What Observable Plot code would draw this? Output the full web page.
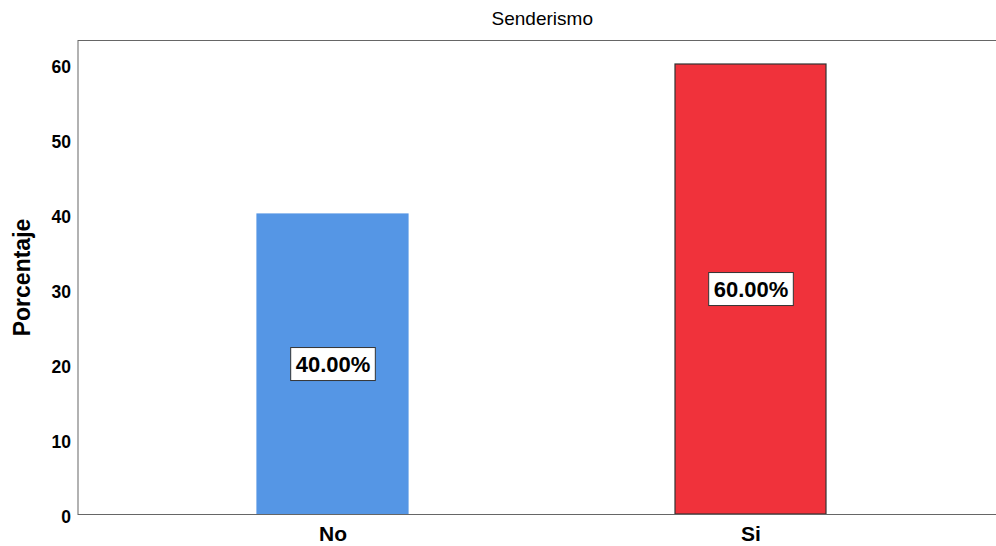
<!DOCTYPE html>
<html><head><meta charset="utf-8">
<script src="https://cdn.jsdelivr.net/npm/d3@7"></script>
<script src="https://cdn.jsdelivr.net/npm/@observablehq/plot@0.6"></script>
<style>html,body{margin:0;padding:0;background:#fff;overflow:hidden}</style>
</head><body><div id="chart"></div>
<script>
const categories = ["No", "Si"];
const values = [40, 60];
const labels = ["40.00%", "60.00%"];
const fills = ["#5596e5", "#f0323b"];
const strokes = ["#5596e5", "#333333"];
const yTicks = [0, 10, 20, 30, 40, 50, 60];
const title = "Senderismo";
const yLabel = "Porcentaje";

const data = categories.map((c, i) => ({cat: c, value: values[i], label: labels[i], fill: fills[i], stroke: strokes[i]}));

const chart = Plot.plot({
  width: 996, height: 546,
  marginLeft: 77.5, marginRight: -10, marginTop: 40, marginBottom: 32,
  style: {fontFamily: "'Liberation Sans', Arial, sans-serif", background: "#fff", color: "#000"},
  x: {domain: categories, paddingInner: 0.639, paddingOuter: 0.43},
  y: {domain: [0, 63.2]},
  marks: [
    Plot.barY(data, {x: "cat", y: "value", fill: d => d.fill, stroke: d => d.stroke, strokeWidth: 1.2}),
    Plot.frame({stroke: "#666"}),
    Plot.axisY({ticks: yTicks, tickSize: 0, tickPadding: 7, fontSize: 17.5, fontWeight: "bold", dy: 3, label: null}),
    Plot.axisX({tickSize: 0, tickPadding: 12, fontSize: 21, fontWeight: "bold", label: null}),
    Plot.text(data, {x: "cat", y: d => d.value / 2, text: "label", fontSize: 22, fontWeight: "bold"}),
    Plot.text([title], {frameAnchor: "top", lineAnchor: "middle", dy: -22, fontSize: 19}),
    Plot.text([yLabel], {frameAnchor: "left", textAnchor: "middle", lineAnchor: "middle", dx: -55, rotate: -90, fontSize: 23, fontWeight: "bold"})
  ]
});
document.getElementById("chart").append(chart);

chart.querySelectorAll("text").forEach(t => {
  if (!labels.includes(t.textContent)) return;
  const bb = t.getBBox();
  const r = document.createElementNS("http://www.w3.org/2000/svg", "rect");
  r.setAttribute("x", bb.x - 5);
  r.setAttribute("y", bb.y - 4);
  r.setAttribute("width", bb.width + 10);
  r.setAttribute("height", bb.height + 8);
  r.setAttribute("fill", "#fff");
  r.setAttribute("stroke", "#333");
  r.setAttribute("stroke-width", "1");
  if (t.getAttribute("transform")) r.setAttribute("transform", t.getAttribute("transform"));
  t.parentNode.insertBefore(r, t);
});
</script>
</body></html>
